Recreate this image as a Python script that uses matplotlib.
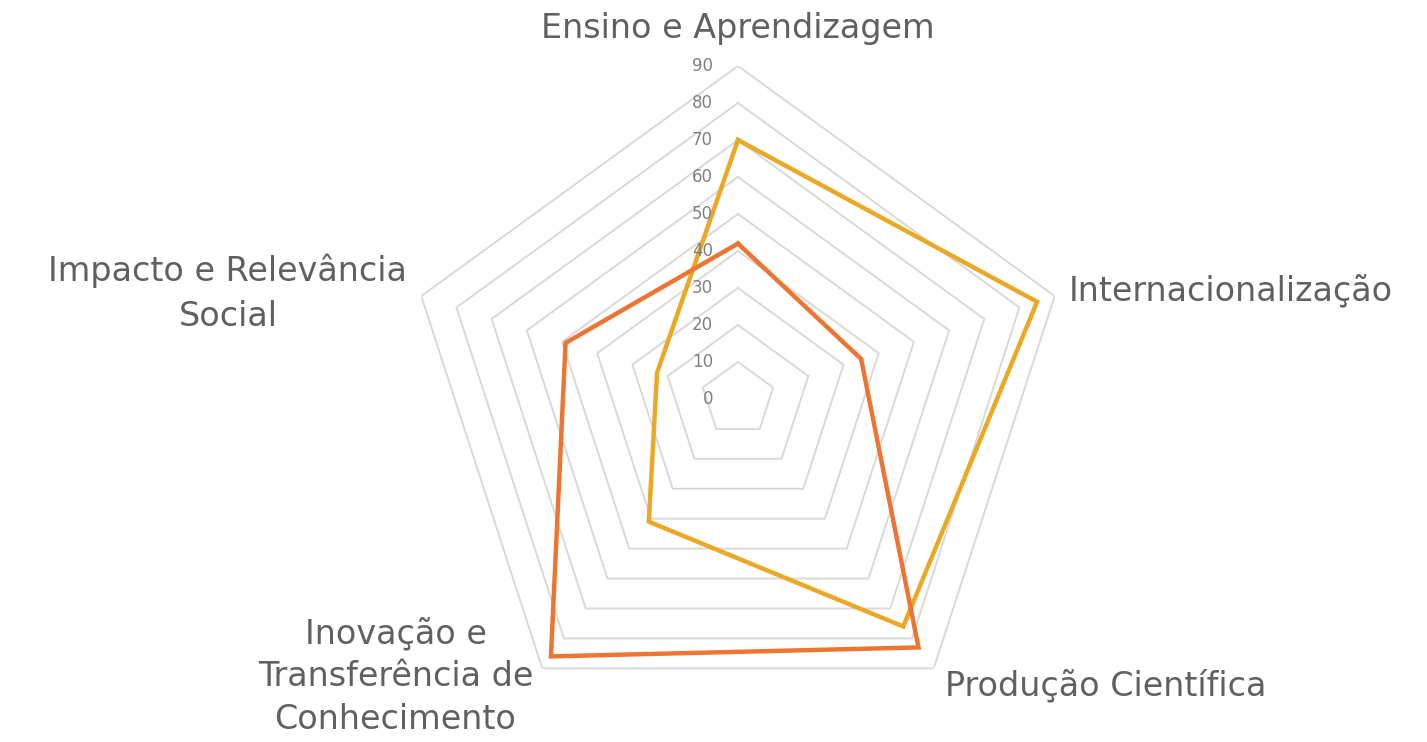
import numpy as np
import matplotlib
matplotlib.use("Agg")
import matplotlib.pyplot as plt

categories = ["Ensino e Aprendizagem", "Internacionalização", "Produção Científica",
              "Inovação e\nTransferência de\nConhecimento", "Impacto e Relevância\nSocial"]
serie_laranja = [42, 35, 83, 86, 49]
serie_amarela = [70, 85, 76, 41, 23]
ticks = [0, 10, 20, 30, 40, 50, 60, 70, 80, 90]

plt.rcParams['font.family'] = ['DejaVu Sans']

fig = plt.figure(figsize=(14.27, 7.42), dpi=100)
ax = fig.add_axes([0.2838, 0.0135, 0.4667, 0.8976], projection='polar')
ax.set_theta_offset(np.pi / 2)
ax.set_theta_direction(-1)
ax.set_ylim(0, 90)
ax.set_frame_on(False)
ax.grid(False)
ax.set_xticks([])
ax.set_yticks([])

n = len(categories)
theta = np.linspace(0, 2 * np.pi, n, endpoint=False)
theta_c = np.concatenate([theta, theta[:1]])

grid_col = '#d9d9d9'
for t in ticks[1:]:
    ax.plot(theta_c, [t] * (n + 1), color=grid_col, lw=1.4, zorder=1)

for vals, col in [(serie_amarela, '#EBA824'), (serie_laranja, '#ED7431')]:
    v = np.concatenate([vals, vals[:1]])
    ax.plot(theta_c, v, color=col, lw=3.2, zorder=3, solid_joinstyle='miter')

for t in ticks:
    ax.annotate(str(t), xy=(0, t), xytext=(-25, 0), textcoords='offset pixels',
                ha='right', va='center', fontsize=12, color='#808080', zorder=4)

lab_col = '#606060'
fs = 24
offsets = [((0, 37), 'center', 'center', 1.45),
           ((14, 5), 'left', 'center', 1.45),
           ((11, -17), 'left', 'center', 1.45),
           ((-9, -8), 'right', 'center', 1.38),
           ((-14, 3), 'right', 'center', 1.45)]
for i, (lab, (off, ha, va, ls)) in enumerate(zip(categories, offsets)):
    ax.annotate(lab, xy=(theta[i], 90), xytext=off, textcoords='offset pixels',
                ha=ha, va=va, fontsize=fs, color=lab_col, multialignment='center',
                linespacing=ls, annotation_clip=False)

fig.savefig('out.png', dpi=100, facecolor='white')
